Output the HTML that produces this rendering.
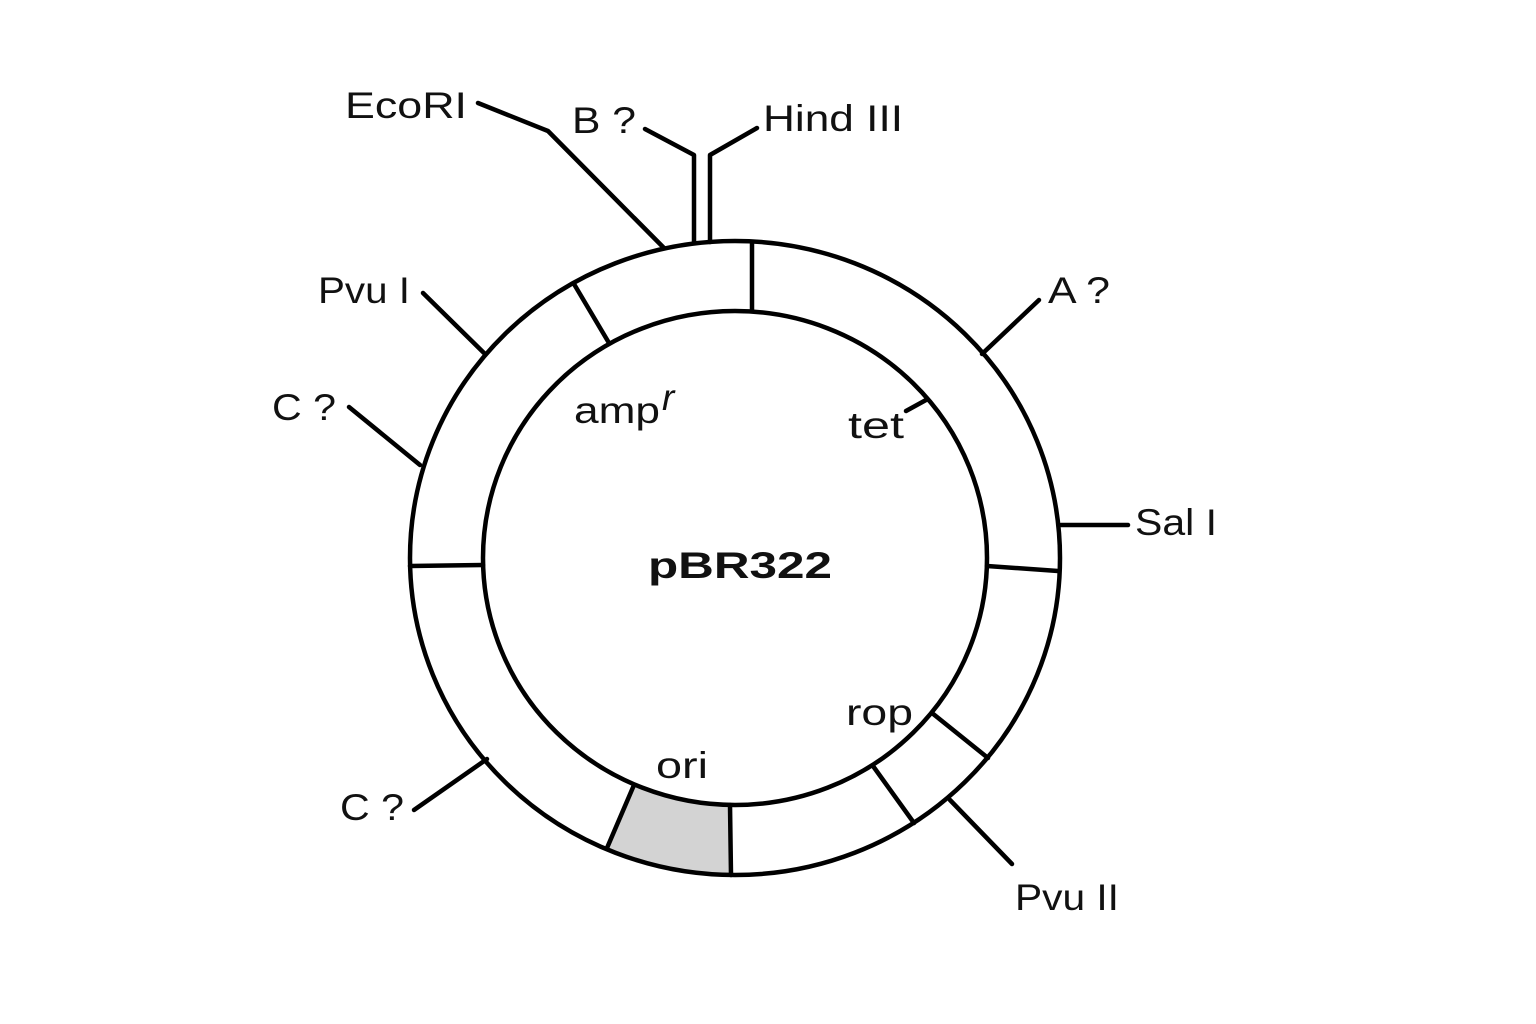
<!DOCTYPE html>
<html><head><meta charset="utf-8"><style>
html,body{margin:0;padding:0;background:#fff;}
svg{display:block}
text{font-family:"Liberation Sans",sans-serif;font-size:37px;fill:#111}
</style></head><body>
<svg width="1536" height="1024" viewBox="0 0 1536 1024">
<g fill="none" stroke="#000" stroke-width="4.5" stroke-linecap="round" stroke-linejoin="round">
<path d="M634,785 A252,247 0 0 0 730,805 L731,875 A325,317 0 0 1 607,848 Z" fill="#d3d3d3" stroke="none"/>
<ellipse cx="735" cy="558" rx="325" ry="317"/>
<ellipse cx="735" cy="558" rx="252" ry="247"/>
<line x1="752" y1="243" x2="752" y2="311"/>
<line x1="574" y1="284" x2="609" y2="343"/>
<line x1="410" y1="566" x2="483" y2="565"/>
<line x1="987" y1="566" x2="1058" y2="571"/>
<line x1="932" y1="713" x2="988" y2="758"/>
<line x1="873" y1="766" x2="914" y2="823"/>
<line x1="730" y1="805" x2="731" y2="875"/>
<line x1="634" y1="785" x2="607" y2="848"/>
<polyline points="478,103 548,131 664,248"/>
<polyline points="645,129 694,155 694,242"/>
<polyline points="757,128 710,155 710,242"/>
<line x1="1039" y1="300" x2="982" y2="354"/>
<line x1="423" y1="293" x2="484" y2="353"/>
<line x1="349" y1="407" x2="420" y2="465"/>
<line x1="1061" y1="525" x2="1128" y2="525"/>
<line x1="414" y1="810" x2="487" y2="759"/>
<line x1="950" y1="800" x2="1012" y2="864"/>
<line x1="906" y1="411" x2="926" y2="400"/>
</g>
<text x="345" y="118" textLength="122" lengthAdjust="spacingAndGlyphs">EcoRI</text>
<text x="572" y="133" textLength="64" lengthAdjust="spacingAndGlyphs">B ?</text>
<text x="763" y="131" textLength="140" lengthAdjust="spacingAndGlyphs">Hind III</text>
<text x="1048" y="303" textLength="62" lengthAdjust="spacingAndGlyphs">A ?</text>
<text x="318" y="303" textLength="92" lengthAdjust="spacingAndGlyphs">Pvu I</text>
<text x="272" y="420" textLength="64" lengthAdjust="spacingAndGlyphs">C ?</text>
<text x="1135" y="535" textLength="82" lengthAdjust="spacingAndGlyphs">Sal I</text>
<text x="340" y="820" textLength="64" lengthAdjust="spacingAndGlyphs">C ?</text>
<text x="1015" y="910" textLength="104" lengthAdjust="spacingAndGlyphs">Pvu II</text>
<text x="574" y="423" textLength="86" lengthAdjust="spacingAndGlyphs">amp</text>
<text x="662" y="410" font-style="italic" font-size="28">r</text>
<text x="848" y="438" textLength="56" lengthAdjust="spacingAndGlyphs">tet</text>
<text x="846" y="725" textLength="67" lengthAdjust="spacingAndGlyphs">rop</text>
<text x="656" y="778" textLength="52" lengthAdjust="spacingAndGlyphs">ori</text>
<text x="648" y="578" font-weight="bold" font-size="42" textLength="184" lengthAdjust="spacingAndGlyphs">pBR322</text>
</svg>
</body></html>
